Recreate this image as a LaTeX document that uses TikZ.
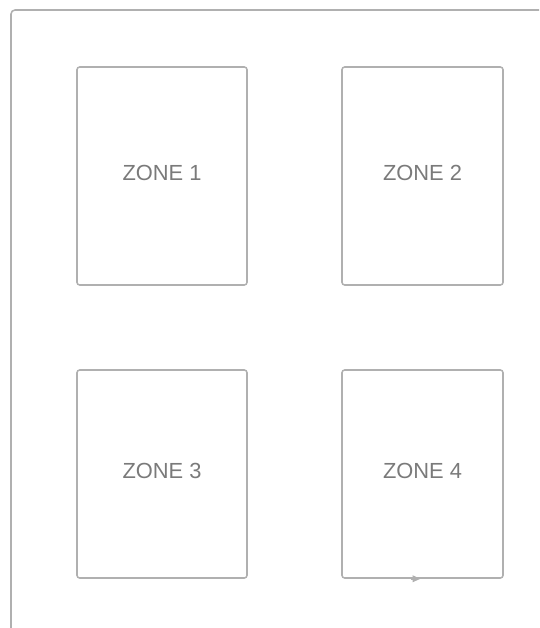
\documentclass[tikz,border=0pt]{standalone}
\usepackage{fontspec}
\setmainfont{Liberation Sans}
\usetikzlibrary{arrows.meta}
\definecolor{edgegray}{HTML}{B0B0B0}
\definecolor{textgray}{HTML}{7A7A7A}
\begin{document}
\begin{tikzpicture}[x=0.75pt,y=-0.75pt,
    zone/.style={draw=edgegray, line width=1.15pt, rounded corners=2pt, inner sep=0pt, text depth=4.5pt, text=textgray, font=\fontsize{16.4}{19}\selectfont},
    wide/.style={minimum width=127.5pt},
    narrow/.style={minimum width=120.75pt}]
    \useasboundingbox (0,0) rectangle (539,628);
    \draw[edgegray, line width=1.15pt, rounded corners=3pt] (539,10) -- (11,10) -- (11,628);
    \node[zone,wide,minimum height=163.5pt] (zone1) at (162,176) {ZONE 1};
    \node[zone,narrow,minimum height=163.5pt] (zone2) at (422.5,176) {ZONE 2};
    \node[zone,wide,minimum height=156pt] (zone3) at (162,474) {ZONE 3};
    \node[zone,narrow,minimum height=156pt] (zone4) at (422.5,474) {ZONE 4};
    \draw[edgegray, line width=1.15pt, -{Triangle[length=6pt,width=5pt]}] ([xshift=-9pt]zone4.south) -- ([xshift=-1.5pt]zone4.south);
  \end{tikzpicture}
\end{document}
